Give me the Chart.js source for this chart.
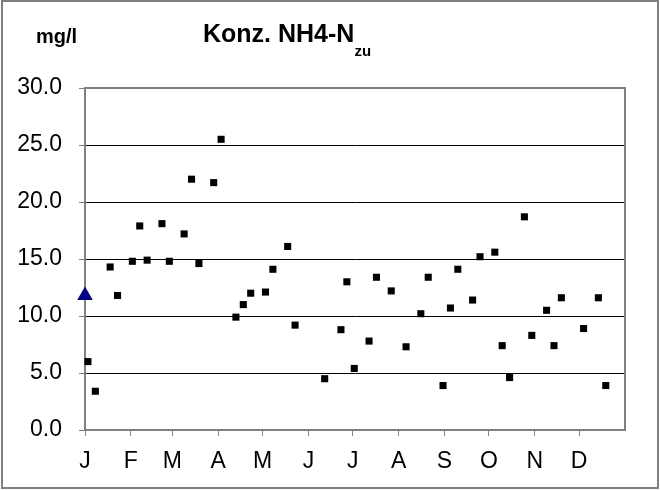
<!DOCTYPE html>
<html>
<head>
<meta charset="utf-8">
<script src="https://cdn.jsdelivr.net/npm/chart.js@4"></script>
<style>
  body { margin: 0; background: #fff; }
  #wrap { position: relative; width: 660px; height: 490px; }
  .lbl { position: absolute; font-family: "Liberation Sans", Arial, sans-serif; font-weight: bold; color: #000; white-space: nowrap; }
  #unit { left: 36px; top: 26px; font-size: 20px; line-height: 20px; }
  #title { left: 203px; top: 21px; font-size: 25px; line-height: 25px; }
  #title sub { font-size: 15px; vertical-align: -14px; line-height: 0; }
</style>
</head>
<body>
<div id="wrap">
  <canvas id="c" width="660" height="490"></canvas>
  <div class="lbl" id="unit">mg/l</div>
  <div class="lbl" id="title">Konz. NH4-N<sub>zu</sub></div>
</div>
<script>
// Tag im Jahr (0 = 1. Januar) und Messwerte
const tage = [2, 7, 17, 22, 32, 37, 42, 52, 57, 67, 72, 77, 87, 92, 102, 107, 112, 122, 127, 137, 142, 162, 173, 177, 182, 192, 197, 207, 217, 227, 232, 242, 247, 252, 262, 267, 277, 282, 287, 297, 302, 312, 317, 322, 337, 347, 352];
const werte = [6.0, 3.4, 14.3, 11.8, 14.8, 17.9, 14.9, 18.1, 14.8, 17.2, 22.0, 14.6, 21.7, 25.5, 9.9, 11.0, 12.0, 12.1, 14.1, 16.1, 9.2, 4.5, 8.8, 13.0, 5.4, 7.8, 13.4, 12.2, 7.3, 10.2, 13.4, 3.9, 10.7, 14.1, 11.4, 15.2, 15.6, 7.4, 4.6, 18.7, 8.3, 10.5, 7.4, 11.6, 8.9, 11.6, 3.9];

// Jahresmittel / Startwert (Dreieck)
const mittelTag = [0];
const mittelWert = [11.8];

// Monatsanfang und Beschriftung
const monatsStart = [0, 31, 59, 90, 120, 151, 181, 212, 243, 273, 304, 334];
const monate = ["J", "F", "M", "A", "M", "J", "J", "A", "S", "O", "N", "D"];

const yTicks = [0, 5, 10, 15, 20, 25, 30];

const grau = "#808080";
const schrift = { family: "'Liberation Sans', Arial, sans-serif", size: 23 };

// Rahmen um Grafik und Zeichenfläche
const rahmen = {
    id: "rahmen",
    beforeDatasetsDraw(chart) {
        const { ctx, chartArea: a } = chart;
        ctx.save();
        ctx.strokeStyle = grau;
        ctx.lineWidth = 2;
        ctx.strokeRect(a.left, a.top, a.right - a.left, a.bottom - a.top);
        ctx.restore();
    },
    afterDraw(chart) {
        const ctx = chart.ctx;
        ctx.save();
        ctx.strokeStyle = grau;
        ctx.lineWidth = 2;
        ctx.strokeRect(2, 1, chart.width - 4, chart.height - 3);
        ctx.restore();
    },
};

const ctx = document.getElementById("c").getContext("2d");
new Chart(ctx, {
    type: "scatter",
    data: {
        datasets: [
            {
                label: "NH4-N zu",
                data: tage.map((t, i) => ({ x: t, y: werte[i] })),
                pointStyle: "rect",
                pointRadius: 5,
                pointHoverRadius: 5,
                backgroundColor: "#000",
                borderColor: "#000",
                borderWidth: 0,
                clip: false,
            },
            {
                label: "Mittel",
                data: mittelTag.map((t, i) => ({ x: t, y: mittelWert[i] })),
                pointStyle: "triangle",
                pointRadius: 9,
                pointHoverRadius: 9,
                backgroundColor: "#000080",
                borderColor: "#000080",
                borderWidth: 0,
                clip: false,
            },
        ],
    },
    options: {
        responsive: false,
        animation: false,
        layout: { padding: { top: 88, right: 35, left: 0, bottom: 0 } },
        plugins: {
            legend: { display: false },
            tooltip: { enabled: false },
            title: { display: false },
        },
        scales: {
            x: {
                type: "linear",
                min: 0,
                max: 365,
                afterBuildTicks: (scale) => {
                    scale.ticks = monatsStart.map((v) => ({ value: v }));
                },
                afterFit: (scale) => {
                    scale.height = 60;
                },
                ticks: {
                    color: "#000",
                    font: schrift,
                    padding: 12,
                    maxRotation: 0,
                    autoSkip: false,
                    callback: (v, i) => monate[i],
                },
                grid: {
                    drawOnChartArea: false,
                    drawTicks: true,
                    tickLength: 6,
                    tickColor: grau,
                    tickWidth: 1,
                },
                border: { color: grau, width: 2 },
            },
            y: {
                min: 0,
                max: 30,
                afterBuildTicks: (scale) => {
                    scale.ticks = yTicks.map((v) => ({ value: v }));
                },
                afterFit: (scale) => {
                    scale.width = 85;
                },
                ticks: {
                    color: "#000",
                    font: schrift,
                    padding: 17,
                    callback: (v) => v.toFixed(1),
                },
                grid: {
                    color: (c) => (c.tick && (c.tick.value === 0 || c.tick.value === 30) ? "rgba(0,0,0,0)" : "#000"),
                    lineWidth: 1,
                    tickLength: 6,
                    tickColor: grau,
                    tickWidth: 1,
                },
                border: { color: grau, width: 2 },
            },
        },
    },
    plugins: [rahmen],
});
</script>
</body>
</html>
